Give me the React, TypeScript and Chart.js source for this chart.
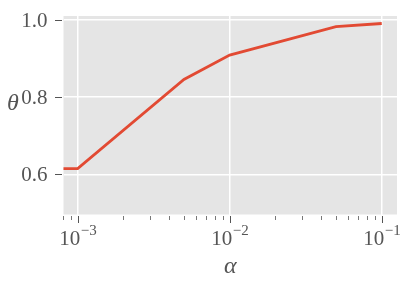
import React, { useEffect, useRef } from "react";
import { Chart, registerables } from "chart.js";

Chart.register(...registerables);

const alphaValues = [1e-4, 1e-3, 5e-3, 1e-2, 5e-2, 1e-1];
const thetaValues = [0.615, 0.615, 0.846, 0.909, 0.983, 0.991];
const xMajorTicks = [1e-3, 1e-2, 1e-1];
const xMajorExponents = ["−3", "−2", "−1"];
const xMinorTicks = [
  8e-4, 9e-4,
  2e-3, 3e-3, 4e-3, 5e-3, 6e-3, 7e-3, 8e-3, 9e-3,
  2e-2, 3e-2, 4e-2, 5e-2, 6e-2, 7e-2, 8e-2, 9e-2,
];
const yTicks = [0.6, 0.8, 1.0];
const yTickLabels = ["0.6", "0.8", "1.0"];

const X_MIN = 8.07e-4;
const X_MAX = 0.126;
const Y_MIN = 0.496;
const Y_MAX = 1.0104;

const TEXT = "#555555";
const SERIF = "'Liberation Serif', 'DejaVu Serif', serif";

const decorPlugin = {
  id: "decor",
  beforeDraw(chart: any) {
    const { ctx, chartArea } = chart;
    ctx.save();
    ctx.fillStyle = "#E5E5E5";
    ctx.fillRect(chartArea.left, chartArea.top, chartArea.right - chartArea.left, chartArea.bottom - chartArea.top);
    ctx.restore();
  },
  afterDraw(chart: any) {
    const { ctx, chartArea } = chart;
    const xs = chart.scales.x;
    const ys = chart.scales.y;
    ctx.save();
    ctx.strokeStyle = TEXT;
    ctx.lineWidth = 1;
    xMajorTicks.forEach((v) => {
      const px = Math.round(xs.getPixelForValue(v)) + 0.5;
      ctx.beginPath();
      ctx.moveTo(px, chartArea.bottom + 1.5);
      ctx.lineTo(px, chartArea.bottom + 8.5);
      ctx.stroke();
    });
    ctx.lineWidth = 0.8;
    xMinorTicks.forEach((v) => {
      const px = Math.round(xs.getPixelForValue(v)) + 0.5;
      ctx.beginPath();
      ctx.moveTo(px, chartArea.bottom + 1.5);
      ctx.lineTo(px, chartArea.bottom + 5.5);
      ctx.stroke();
    });
    ctx.lineWidth = 1;
    yTicks.forEach((v) => {
      const py = Math.round(ys.getPixelForValue(v)) + 0.5;
      ctx.beginPath();
      ctx.moveTo(chartArea.left - 1.5, py);
      ctx.lineTo(chartArea.left - 8.5, py);
      ctx.stroke();
    });
    ctx.fillStyle = TEXT;
    ctx.font = `21px ${SERIF}`;
    ctx.textAlign = "right";
    ctx.textBaseline = "middle";
    yTicks.forEach((v, i) => {
      ctx.fillText(yTickLabels[i], chartArea.left - 16, ys.getPixelForValue(v) + 1);
    });
    ctx.textBaseline = "alphabetic";
    ctx.textAlign = "left";
    xMajorTicks.forEach((v, i) => {
      const px = xs.getPixelForValue(v);
      ctx.font = `21px ${SERIF}`;
      const wBase = ctx.measureText("10").width;
      ctx.font = `15px ${SERIF}`;
      const wExp = ctx.measureText(xMajorExponents[i]).width;
      const start = px - (wBase + wExp) / 2;
      ctx.font = `21px ${SERIF}`;
      ctx.fillText("10", start, 245);
      ctx.font = `15px ${SERIF}`;
      ctx.fillText(xMajorExponents[i], start + wBase + 0.5, 235);
    });
    ctx.textAlign = "center";
    ctx.textBaseline = "middle";
    ctx.font = `italic 24px ${SERIF}`;
    ctx.fillText("α", (chartArea.left + chartArea.right) / 2, 267);
    ctx.font = `italic 24px ${SERIF}`;
    ctx.fillText("θ", 13, 104);
    ctx.restore();
  },
};

export default function App() {
  const canvasRef = useRef<HTMLCanvasElement | null>(null);

  useEffect(() => {
    const canvas = canvasRef.current;
    if (!canvas) return;
    const chart = new Chart(canvas, {
      type: "line",
      data: {
        datasets: [
          {
            data: alphaValues.map((a, i) => ({ x: a, y: thetaValues[i] })),
            borderColor: "#E24A33",
            borderWidth: 2.8,
            pointRadius: 0,
            tension: 0,
            fill: false,
          },
        ],
      },
      options: {
        animation: false,
        responsive: false,
        maintainAspectRatio: false,
        layout: { padding: { top: 16, right: 16, left: 0, bottom: 0 } },
        plugins: { legend: { display: false }, tooltip: { enabled: false } },
        scales: {
          x: {
            type: "logarithmic",
            min: X_MIN,
            max: X_MAX,
            afterBuildTicks: (s: any) => {
              s.ticks = xMajorTicks.map((v) => ({ value: v }));
            },
            afterFit: (s: any) => {
              s.height = 73.5;
            },
            grid: { color: "#FFFFFF", lineWidth: 1.5, drawTicks: false, tickLength: 0 },
            border: { display: false },
            ticks: { display: false },
          },
          y: {
            type: "linear",
            min: Y_MIN,
            max: Y_MAX,
            afterBuildTicks: (s: any) => {
              s.ticks = yTicks.map((v) => ({ value: v }));
            },
            afterFit: (s: any) => {
              s.width = 63.5;
            },
            grid: { color: "#FFFFFF", lineWidth: 1.5, drawTicks: false, tickLength: 0 },
            border: { display: false },
            ticks: { display: false },
          },
        },
      },
      plugins: [decorPlugin],
    });
    return () => chart.destroy();
  }, []);

  return (
    <div style={{ position: "fixed", left: 0, top: 0, width: 413, height: 288, background: "#fff" }}>
      <canvas ref={canvasRef} width={413} height={288} style={{ width: 413, height: 288, display: "block" }} />
    </div>
  );
}
